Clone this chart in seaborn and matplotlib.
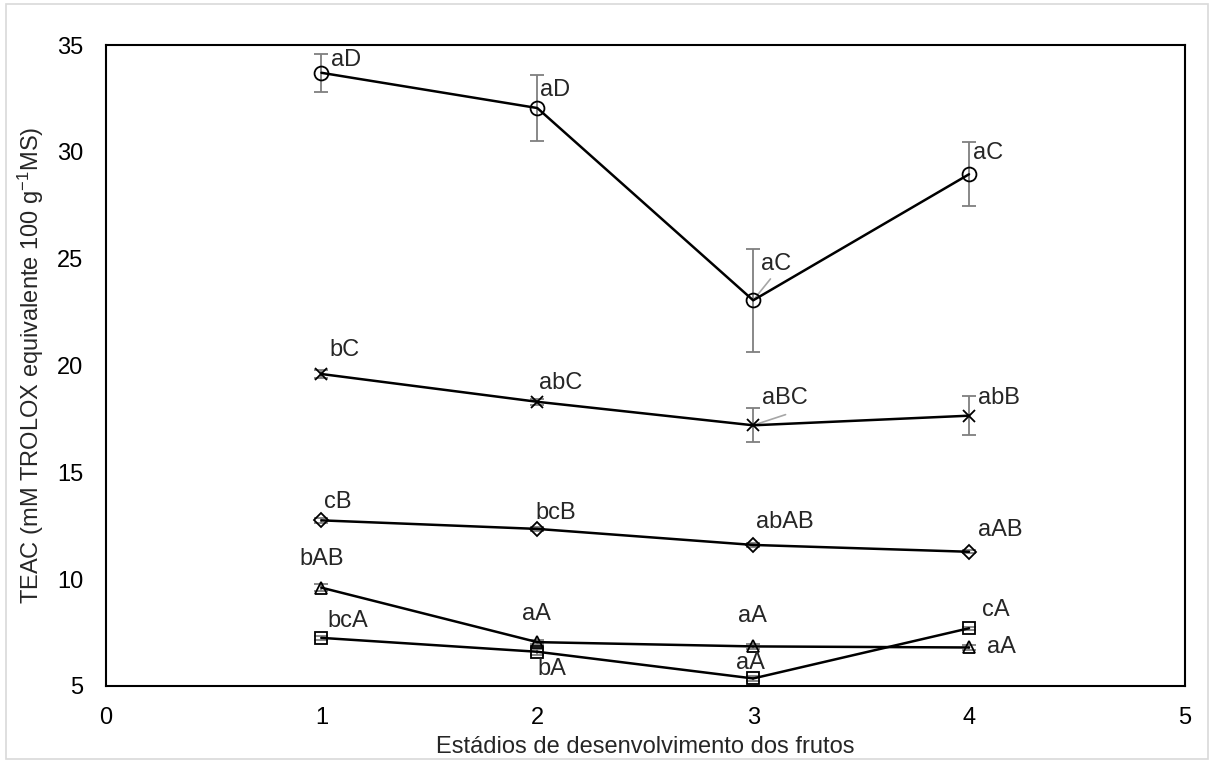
import pandas as pd
import numpy as np
import matplotlib.pyplot as plt
import seaborn as sns

estadios = [1, 2, 3, 4]
serie_circ = [33.7, 32.05, 23.05, 28.95]
erro_circ = [0.9, 1.55, 2.4, 1.5]
serie_x = [19.6, 18.3, 17.2, 17.65]
erro_x = [0.2, 0.15, 0.8, 0.9]
serie_diam = [12.75, 12.35, 11.6, 11.28]
erro_diam = [0.1, 0.1, 0.08, 0.08]
serie_tri = [9.6, 7.05, 6.85, 6.8]
erro_tri = [0.15, 0.1, 0.12, 0.12]
serie_quad = [7.25, 6.6, 5.35, 7.7]
erro_quad = [0.1, 0.15, 0.1, 0.08]

rot_circ = ['aD', 'aD', 'aC', 'aC']
rot_x = ['bC', 'abC', 'aBC', 'abB']
rot_diam = ['cB', 'bcB', 'abAB', 'aAB']
rot_tri = ['bAB', 'aA', 'aA', 'aA']
rot_quad = ['bcA', 'bA', 'aA', 'cA']

series = {'circ': (serie_circ, erro_circ), 'x': (serie_x, erro_x),
          'diam': (serie_diam, erro_diam), 'tri': (serie_tri, erro_tri),
          'quad': (serie_quad, erro_quad)}

df = pd.concat([pd.DataFrame({'estadio': estadios, 'teac': v, 'erro': e, 'serie': k})
                for k, (v, e) in series.items()], ignore_index=True)

sns.set_style('white')
plt.rcParams['font.family'] = ['Liberation Sans', 'DejaVu Sans']
plt.rcParams['mathtext.fontset'] = 'custom'
plt.rcParams['mathtext.rm'] = 'Liberation Sans'
plt.rcParams['mathtext.it'] = 'Liberation Sans'

fig, ax = plt.subplots(figsize=(12.14, 7.63), dpi=100)
fig.subplots_adjust(left=0.087, right=0.976, top=0.941, bottom=0.101)

# barras de erro primeiro, em cinza
for k, g in df.groupby('serie', sort=False):
    ax.errorbar(g['estadio'], g['teac'], yerr=g['erro'], fmt='none',
                ecolor='#7f7f7f', elinewidth=1.3, capsize=5, capthick=1.3, zorder=1)

marcadores = {'circ': 'o', 'x': 'x', 'diam': 'D', 'tri': '^', 'quad': 's'}
tamanhos = {'circ': 10, 'x': 9, 'diam': 7, 'tri': 8, 'quad': 8}
for k, g in df.groupby('serie', sort=False):
    sns.lineplot(data=g, x='estadio', y='teac', ax=ax, color='black', lw=1.8,
                 marker=marcadores[k], markersize=tamanhos[k], markerfacecolor='none',
                 markeredgecolor='black', markeredgewidth=1.3, zorder=3)

fs = 17
def rotular(xs, ys, textos, offs):
    # deslocamentos em pixels: borda esquerda do texto, centro vertical
    for x, y, t, (dx, dy) in zip(xs, ys, textos, offs):
        ax.annotate(t, (x, y), xytext=(dx, dy), textcoords='offset pixels',
                    fontsize=fs, ha='left', va='center')

rotular(estadios, serie_circ, rot_circ, [(10, 13), (3, 18), (8, 36), (4, 21)])
rotular(estadios, serie_x, rot_x, [(8, 24), (2, 19), (9, 27), (9, 18)])
rotular(estadios, serie_diam, rot_diam, [(3, 18), (-2, 16), (3, 23), (9, 22)])
rotular(estadios, serie_tri, rot_tri, [(-22, 29), (-15, 28), (-15, 30), (18, 0)])
rotular(estadios, serie_quad, rot_quad, [(6, 17), (0, -17), (-17, 15), (13, 18)])

# linhas de chamada
ax.plot([3, 3.08], [23.05, 24.05], color='#a6a6a6', lw=1.2, zorder=2)
ax.plot([3, 3.15], [17.2, 17.7], color='#a6a6a6', lw=1.2, zorder=2)

ax.set_xlim(0, 5)
ax.set_ylim(5, 35)
ax.set_xticks(range(0, 6))
ax.set_yticks(range(5, 36, 5))
ax.tick_params(direction='in', length=5, width=1, labelsize=fs, colors='black')
ax.tick_params(axis='x', pad=15)
ax.tick_params(axis='y', pad=16)
for s in ax.spines.values():
    s.set_color('black')
    s.set_linewidth(1.5)

ax.set_xlabel('Estádios de desenvolvimento dos frutos', fontsize=fs, labelpad=5)
ax.set_ylabel('TEAC (mM TROLOX equivalente 100 g$^{-1}$MS)', fontsize=fs, labelpad=8)

# moldura externa
fig.patches.append(plt.Rectangle((0.005, 0.005), 0.99, 0.99, transform=fig.transFigure,
                                 fill=False, edgecolor='#d9d9d9', lw=1.2))

plt.savefig('out.png')
